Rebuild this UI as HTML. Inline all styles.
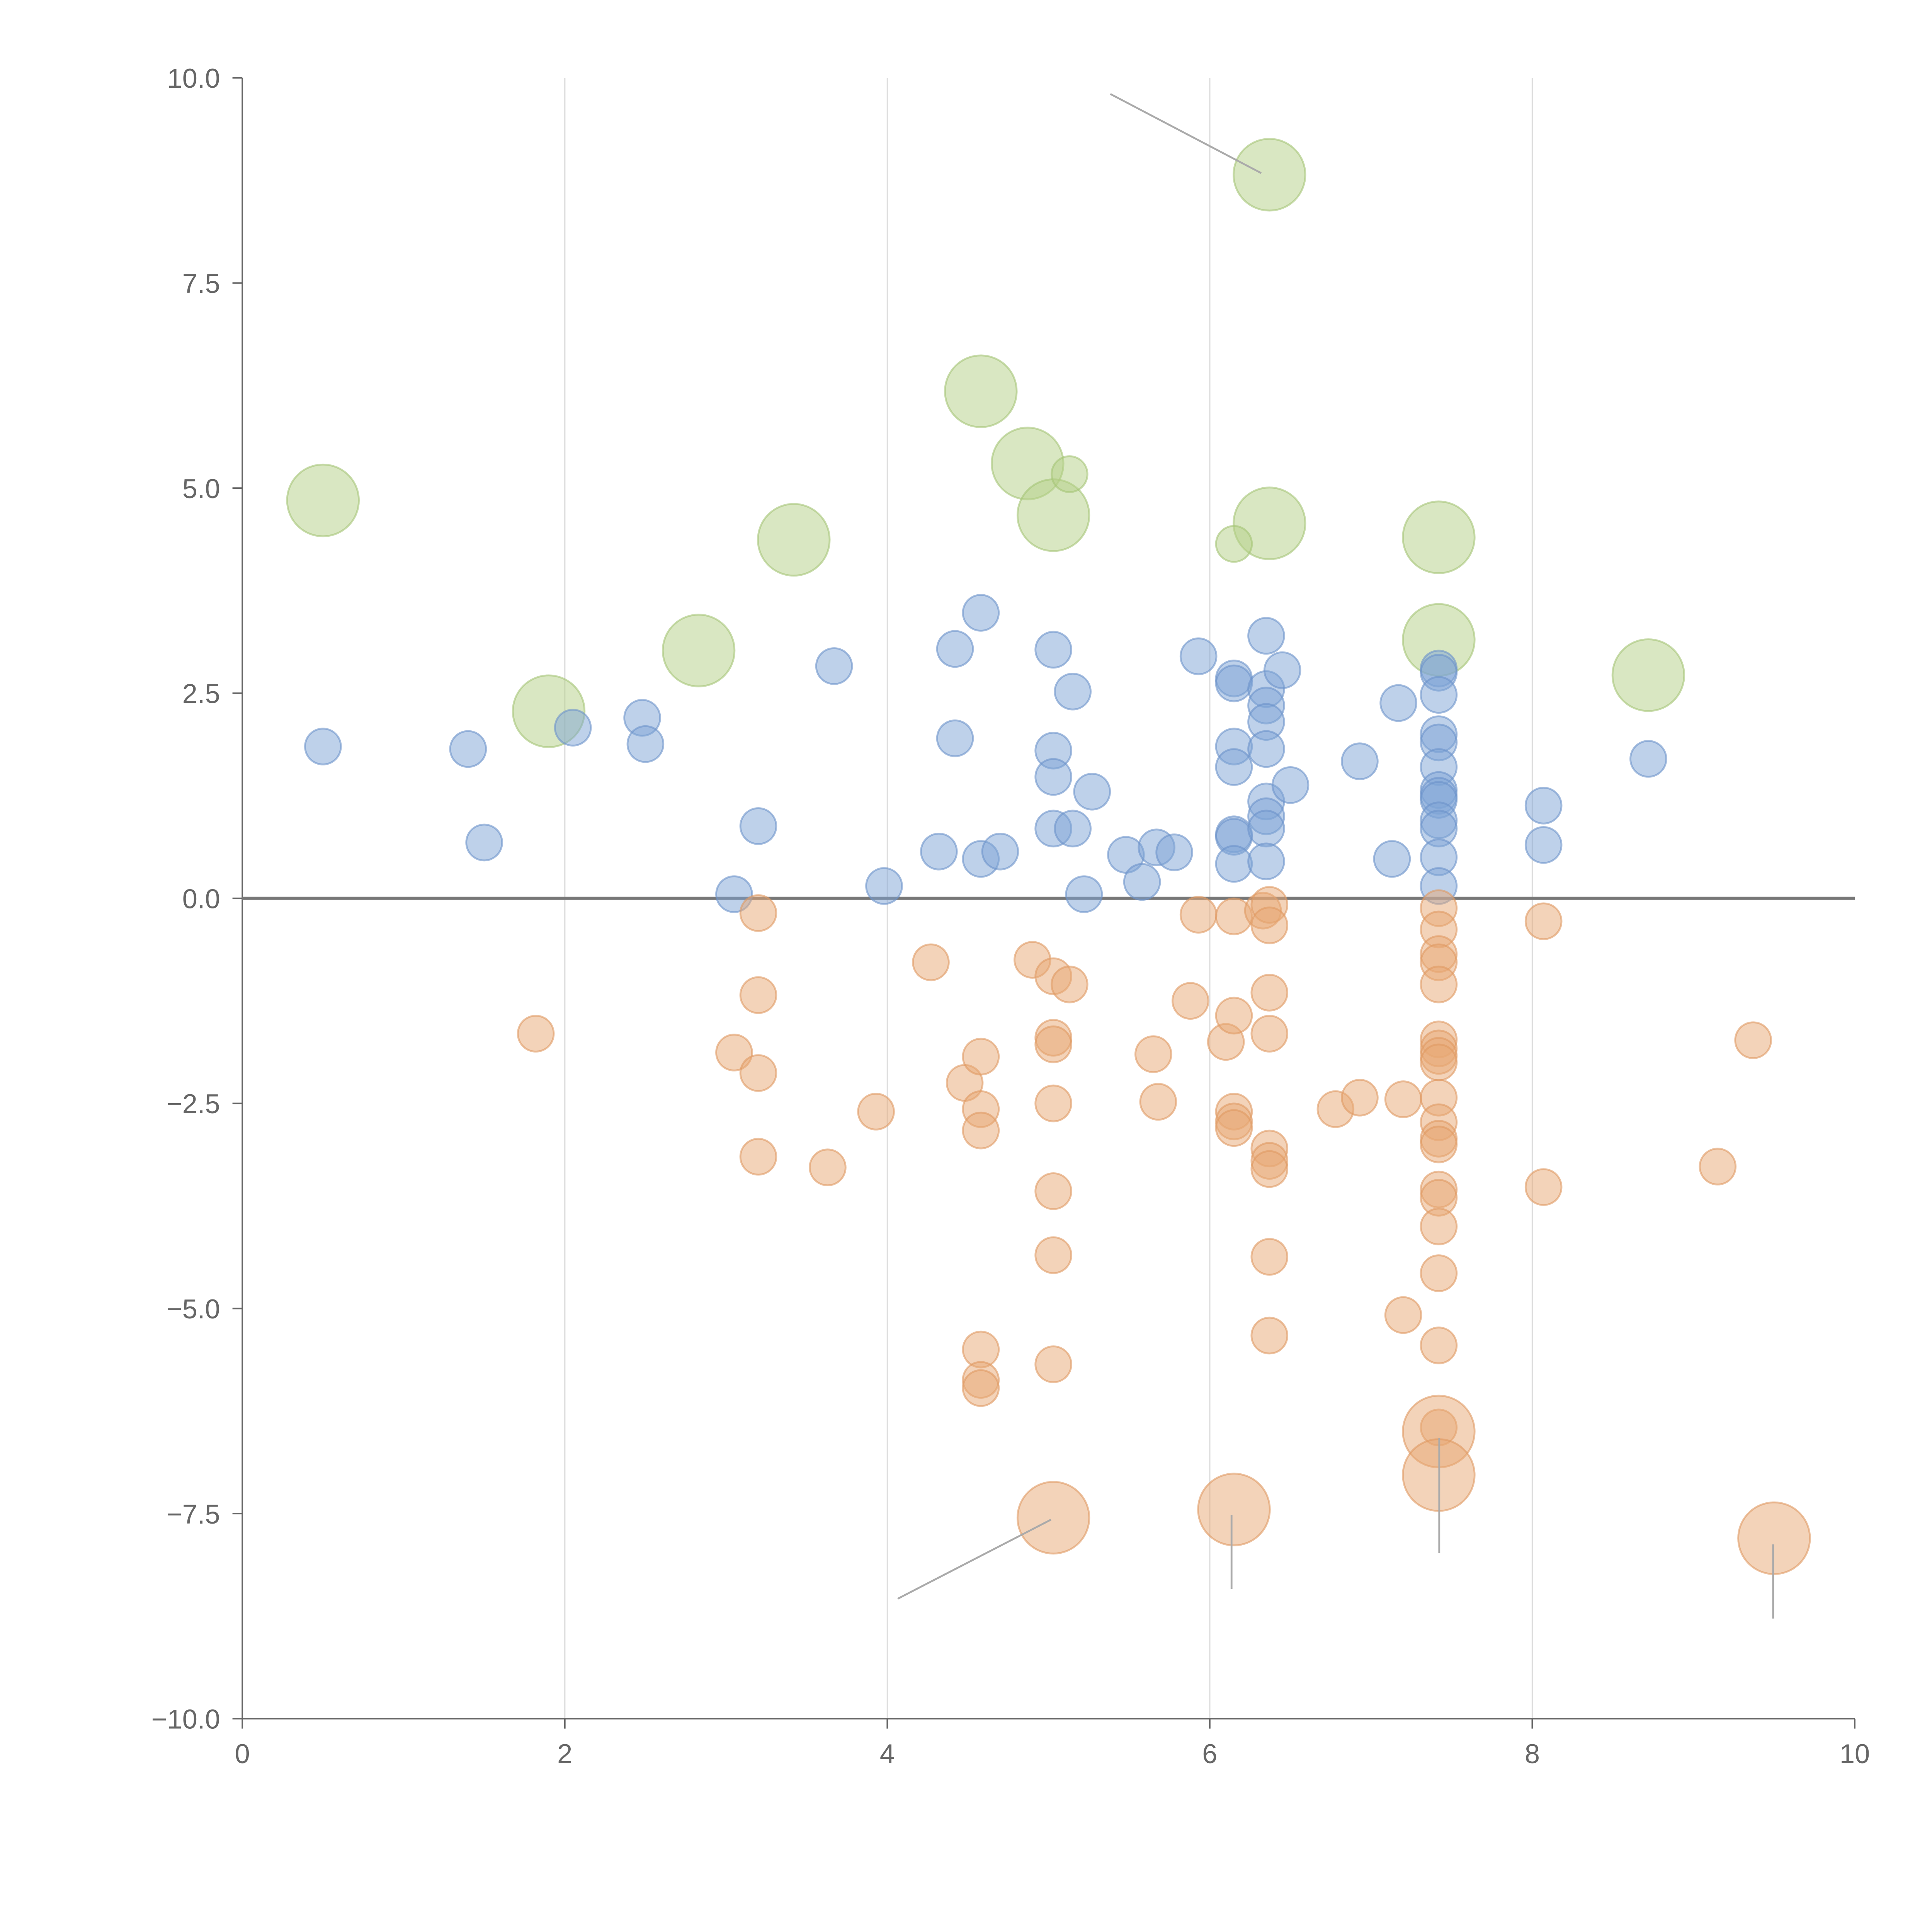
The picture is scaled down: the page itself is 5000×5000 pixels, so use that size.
<!DOCTYPE html>
<html><head><meta charset="utf-8"><style>html,body{margin:0;padding:0;background:#fff}svg{display:block}</style></head>
<body>
<svg id="chart" width="5000" height="5000" viewBox="0 0 1562.5 1562.5" xmlns="http://www.w3.org/2000/svg" font-family="Liberation Sans, sans-serif">
<rect width="1562.5" height="1562.5" fill="#fff"/>
<g id="grid"></g>
<g id="axes"></g>
<g id="marks"></g>
<g id="leaders"></g>
</svg>
<script>
const xTicks=[0,2,4,6,8,10];
const yTicks=[-10,-7.5,-5,-2.5,0,2.5,5,7.5,10];
const blueX=[0.5,1.4,1.5,2.05,2.48,2.5,3.05,3.2,3.67,3.98,4.32,4.42,4.42,4.58,4.58,4.7,5.03,5.03,5.03,5.03,5.15,5.15,5.22,5.27,5.48,5.58,5.67,5.78,5.93,6.15,6.15,6.15,6.15,6.15,6.15,6.15,6.35,6.35,6.35,6.35,6.35,6.35,6.35,6.35,6.35,6.45,6.5,6.93,7.13,7.17,7.42,7.42,7.42,7.42,7.42,7.42,7.42,7.42,7.42,7.42,7.42,7.42,7.42,8.07,8.07,8.72];
const blueY=[1.85,1.82,0.68,2.08,2.2,1.88,0.05,0.88,2.83,0.15,0.57,3.04,1.95,3.48,0.48,0.57,3.03,1.8,1.48,0.85,2.52,0.85,0.05,1.3,0.53,0.2,0.62,0.56,2.95,2.68,2.62,1.85,1.6,0.78,0.75,0.42,3.2,2.55,2.35,2.15,1.82,1.18,1.0,0.85,0.45,2.78,1.38,1.67,0.48,2.38,2.8,2.75,2.48,2.0,1.9,1.6,1.32,1.25,1.2,0.95,0.85,0.5,0.15,1.13,0.65,1.7];
const orangeX=[1.82,3.05,3.2,3.2,3.2,3.2,3.63,3.93,4.27,4.48,4.58,4.58,4.58,4.58,4.58,4.58,4.9,5.03,5.13,5.03,5.03,5.03,5.03,5.03,5.03,5.65,5.68,5.88,5.93,6.1,6.15,6.15,6.15,6.15,6.15,6.33,6.37,6.37,6.37,6.37,6.37,6.37,6.37,6.37,6.37,6.78,6.93,7.2,7.2,7.42,7.42,7.42,7.42,7.42,7.42,7.42,7.42,7.42,7.42,7.42,7.42,7.42,7.42,7.42,7.42,7.42,7.42,7.42,8.07,8.07,9.15,9.37];
const orangeY=[-1.65,-1.88,-0.18,-1.18,-2.13,-3.15,-3.28,-2.6,-0.78,-2.25,-1.93,-2.57,-2.83,-5.5,-5.87,-5.97,-0.75,-0.95,-1.05,-1.7,-1.78,-2.5,-3.57,-4.35,-5.68,-1.9,-2.48,-1.25,-0.2,-1.75,-0.22,-1.43,-2.6,-2.72,-2.8,-0.15,-0.08,-0.33,-1.15,-1.65,-3.05,-3.2,-3.3,-4.37,-5.33,-2.57,-2.43,-2.45,-5.08,-0.12,-0.38,-0.68,-0.78,-1.05,-1.72,-1.83,-1.92,-2.0,-2.43,-2.73,-2.93,-3.0,-3.55,-3.65,-4.0,-4.57,-5.45,-6.45,-0.28,-3.52,-3.27,-1.73];
const bigOrangeX=[5.03,6.15,7.42,7.42,9.5];
const bigOrangeY=[-7.55,-7.45,-6.5,-7.03,-7.8];
const greenX=[0.5,1.9,2.83,3.42,4.58,4.87,5.03,6.37,6.37,7.42,7.42,8.72];
const greenY=[4.85,2.28,3.02,4.37,6.18,5.3,4.67,8.82,4.57,4.4,3.15,2.72];
const smallGreenX=[5.13,6.15];
const smallGreenY=[5.17,4.32];

const NS="http://www.w3.org/2000/svg";
const X0=196,X1=1500,Y0=1390,Y1=63;
function sx(v){return X0+(v-0)/(10-0)*(X1-X0);}
function sy(v){return Y0-(v+10)/20*(Y0-Y1);}
function mk(tag,attrs,parent){const e=document.createElementNS(NS,tag);for(const k in attrs)e.setAttribute(k,attrs[k]);parent.appendChild(e);return e;}
const grid=document.getElementById('grid'),axes=document.getElementById('axes'),marks=document.getElementById('marks'),leaders=document.getElementById('leaders');

xTicks.forEach(t=>{
  if(t>0&&t<10){const g=mk('line',{x1:sx(t),x2:sx(t),y1:Y1,y2:Y0,stroke:'#dddddd','stroke-width':1},grid);
  
  }
  const tk=mk('line',{x1:sx(t),x2:sx(t),y1:Y0,y2:Y0+8,stroke:'#666','stroke-width':1.2},axes);
  
  
  const lb=mk('text',{x:sx(t),y:Y0+36,'text-anchor':'middle','font-size':22,fill:'#666'},axes);
  lb.textContent=t;
  
  
});
yTicks.forEach(t=>{
  const tk=mk('line',{x1:X0-8,x2:X0,y1:sy(t),y2:sy(t),stroke:'#666','stroke-width':1.2},axes);
  
  
  const lb=mk('text',{x:X0-18,y:sy(t)+8,'text-anchor':'end','font-size':22,fill:'#666'},axes);
  lb.textContent=(t<0?'\u2212':'')+Math.abs(t).toFixed(1);
  
  
});
const ya=mk('line',{x1:X0,x2:X0,y1:Y1,y2:Y0,stroke:'#666','stroke-width':1.2},axes);


const xa=mk('line',{x1:X0,x2:X1,y1:Y0,y2:Y0,stroke:'#666','stroke-width':1.2},axes);



function series(xs,ys,r,fill,stroke,name){
  xs.forEach((x,i)=>{
    const c=mk('circle',{cx:sx(x),cy:sy(ys[i]),r:r,fill:fill,'fill-opacity':0.5,stroke:stroke,'stroke-opacity':0.6,'stroke-width':1.5},marks);
    
    
  });
}
series(greenX,greenY,29,'#b3cf86','#a5c476','bubble-green-large');
series(smallGreenX,smallGreenY,14.5,'#b3cf86','#a5c476','bubble-green');
series(blueX,blueY,14.5,'#7ea3d6','#6d93c9','bubble-blue');
series(orangeX,orangeY,14.5,'#e8a774','#e09a62','bubble-orange');
series(bigOrangeX,bigOrangeY,29,'#e8a774','#e09a62','bubble-orange-large');

const zl=mk('line',{x1:X0,x2:X1,y1:sy(0),y2:sy(0),stroke:'#777','stroke-width':2.5},axes);



[[898,76,1020,140],[726,1293,850,1229],[996,1225,996,1285],[1164,1163,1164,1256],[1434,1249,1434,1309]].forEach(l=>{
  const e=mk('line',{x1:l[0],y1:l[1],x2:l[2],y2:l[3],stroke:'#aaa','stroke-width':1.5},leaders);
  
  
});
</script>
</body></html>
